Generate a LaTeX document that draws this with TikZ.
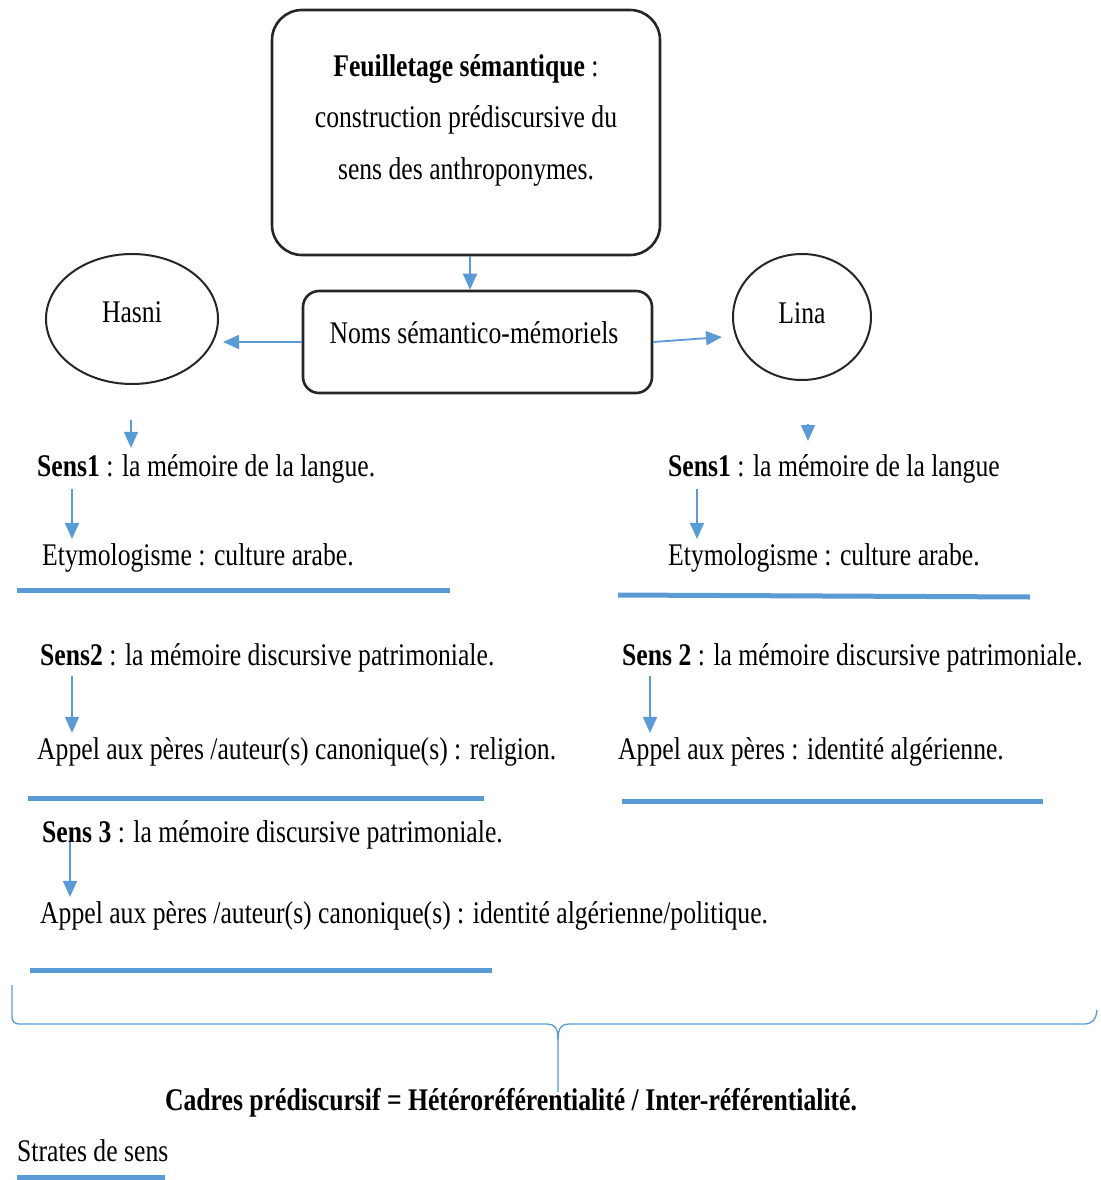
\documentclass[tikz,border=0pt]{standalone}
\usepackage{fontspec}
\setmainfont{Liberation Serif}[FakeStretch=0.815]
\usetikzlibrary{arrows.meta,shapes.geometric}
\definecolor{accent}{HTML}{5B9BD5}
\begin{document}
\begin{tikzpicture}[x=1pt,y=-1pt,
  txt/.style={anchor=base west, inner sep=0pt, font=\fontsize{31.5}{36}\selectfont},
  ctxt/.style={anchor=base, inner sep=0pt, font=\fontsize{31.5}{36}\selectfont},
  rulebar/.style={draw=accent, line width=5pt},
  arr/.style={draw=accent, line width=1.8pt, -{Triangle[width=14pt,length=16pt]}},
  boxed/.style={draw=black!85, line width=2.6pt, inner sep=0pt},
  ell/.style={ellipse, draw=black!85, line width=2pt, inner sep=0pt},
  bracepath/.style={draw=accent, line width=1.3pt}]
\useasboundingbox (0,0) rectangle (1100,1180);
\fill[white] (0,0) rectangle (1100,1180);

% top box
\node[boxed, rounded corners=30pt, minimum width=388pt, minimum height=245pt] (top) at (466,132.5) {};
\node[ctxt] (t1) at (466,77) {\textbf{Feuilletage sémantique} :};
\node[ctxt] (t2) at (466,128) {construction prédiscursive du};
\node[ctxt] (t3) at (466,179) {sens des anthroponymes.};

% middle box
\node[boxed, rounded corners=16pt, minimum width=349pt, minimum height=102pt] (mid) at (477.5,342) {};
\node[ctxt] (midlbl) at (474,343) {Noms sémantico-mémoriels};

% ellipses
\node[ell, minimum width=172pt, minimum height=130pt] (hasni) at (132,319) {};
\node[ctxt] (hasnilbl) at (132,322) {Hasni};
\node[ell, minimum width=138pt, minimum height=126pt] (lina) at (802,317) {};
\node[ctxt] (linalbl) at (802,323) {Lina};

% arrows from boxes
\draw[arr] ([xshift=4pt]top.south) -- ([xshift=4pt]top.south |- mid.north);
\draw[arr, shorten >=4pt] (mid.west) -- (mid.west -| hasni.east);
\draw[arr] (mid.east) -- ([xshift=-10pt,yshift=-20pt]lina.west);

% left column
\coordinate (h0) at (131,420);
\node[txt] (s1l) at (37,476) {\textbf{Sens1} : la mémoire de la langue.};
\draw[arr] (h0) -- ([yshift=6pt]h0 |- s1l.north);
\node[txt] (e1l) at (42,565) {Etymologisme : culture arabe.};
\draw[arr] ([xshift=35pt,yshift=-6pt]s1l.south west) -- ([xshift=35pt,yshift=4pt]s1l.south west |- e1l.north);
\draw[rulebar] (17,590) -- (450,590);

\node[txt] (s2l) at (40,665) {\textbf{Sens2} : la mémoire discursive patrimoniale.};
\node[txt] (a2l) at (37,759) {Appel aux pères /auteur(s) canonique(s) : religion.};
\draw[arr] ([xshift=32pt,yshift=-4pt]s2l.south west) -- ([xshift=32pt,yshift=4pt]s2l.south west |- a2l.north);
\draw[rulebar] (28,798) -- (484,798);

\node[txt] (s3l) at (42,842) {\textbf{Sens 3} : la mémoire discursive patrimoniale.};
\node[txt] (a3l) at (40,923) {Appel aux pères /auteur(s) canonique(s) : identité algérienne/politique.};
\draw[arr] ([xshift=28pt]s3l.base west) -- ([xshift=28pt,yshift=4pt]s3l.base west |- a3l.north);
\draw[rulebar] (30,970) -- (492,970);

% right column
\coordinate (l0) at (808,424);
\coordinate (l1) at (808,441);
\draw[arr] (l0) -- (l1);
\node[txt] (s1r) at (668,476) {\textbf{Sens1} : la mémoire de la langue};
\node[txt] (e1r) at (668,565) {Etymologisme : culture arabe.};
\draw[arr] ([xshift=29pt,yshift=-6pt]s1r.south west) -- ([xshift=29pt,yshift=4pt]s1r.south west |- e1r.north);
\draw[rulebar] (618,595) -- (1030,597);

\node[txt] (s2r) at (622,665) {\textbf{Sens 2} : la mémoire discursive patrimoniale.};
\node[txt] (a2r) at (618,759) {Appel aux pères : identité algérienne.};
\draw[arr] ([xshift=28pt,yshift=-4pt]s2r.south west) -- ([xshift=28pt,yshift=4pt]s2r.south west |- a2r.north);
\draw[rulebar] (622,801) -- (1043,801);

% brace
\draw[bracepath] (12,985) -- (12,1016) .. controls (12,1022) and (14,1024) .. (21,1024)
  -- (547,1024) .. controls (554,1024) and (558,1027) .. (558,1040) -- (558,1092);
\draw[bracepath] (558,1040) .. controls (558,1027) and (562,1024) .. (569,1024)
  -- (1084,1024) .. controls (1092,1024) and (1096,1020) .. (1097,1010);

% bottom texts
\node[ctxt] (cadres) at (511,1110) {\textbf{Cadres prédiscursif = Hétéroréférentialité / Inter-référentialité.}};
\node[txt] (strates) at (17,1161) {Strates de sens};
\draw[rulebar] (strates.west |- 0,1177) -- (165,1177);
\end{tikzpicture}
\end{document}
